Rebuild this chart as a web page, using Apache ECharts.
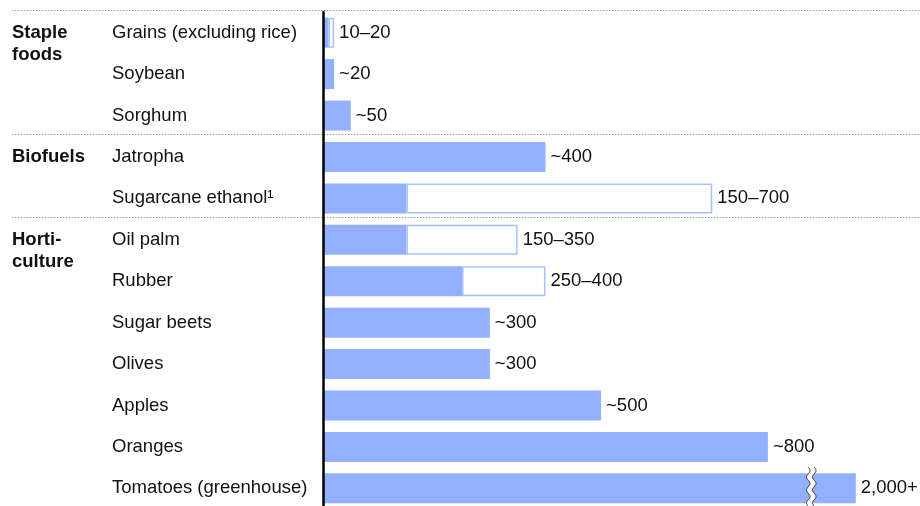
<!DOCTYPE html>
<html>
<head>
<meta charset="utf-8">
<script src="https://cdn.jsdelivr.net/npm/echarts@6/dist/echarts.min.js"></script>
<style>html,body{margin:0;padding:0;background:#fff}#chart{width:920px;height:506px}</style>
</head>
<body>
<div id="chart"></div>
<script>
const categories = ['Grains (excluding rice)', 'Soybean', 'Sorghum', 'Jatropha', 'Sugarcane ethanol¹', 'Oil palm', 'Rubber', 'Sugar beets', 'Olives', 'Apples', 'Oranges', 'Tomatoes (greenhouse)'];
const lowValues = [10, 20, 50, 400, 150, 150, 250, 300, 300, 500, 800, 2000];
const highValues = [20, null, null, null, 700, 350, 400, null, null, null, null, null];
const valueLabels = ['10–20', '~20', '~50', '~400', '150–700', '150–350', '250–400', '~300', '~300', '~500', '~800', '2,000+'];
const groupNames = ['Staple\nfoods', 'Biofuels', 'Horti-\nculture'];
const groupStarts = [0, 3, 5];
const axisBreak = { start: 878, end: 1920 };

const FONT = '"Liberation Sans", Arial, sans-serif';
const FS = 18.5;
const BLUE = '#93b0ff';
const chart = echarts.init(document.getElementById('chart'), null, { renderer: 'canvas' });

const lowData = lowValues.map((v, i) => ({ value: v, label: { show: highValues[i] == null } }));
const rangeData = highValues.map((h, i) => h == null ? '-' : h - lowValues[i]);

const labelStyle = {
  position: 'right', distance: 5, fontSize: FS, color: '#111', fontFamily: FONT,
  formatter: p => valueLabels[p.dataIndex]
};

chart.setOption({
  animation: false,
  grid: { left: 323, top: 12, width: 555, height: 497, outerBoundsMode: 'none', containLabel: false },
  xAxis: {
    type: 'value', min: 0, max: 2040, show: false,
    splitLine: { show: false },
    breaks: [{ start: axisBreak.start, end: axisBreak.end, gap: 0 }],
    breakArea: { show: false }
  },
  yAxis: {
    type: 'category', data: categories, inverse: true, z: 20,
    axisLine: { show: true, lineStyle: { color: '#000', width: 2.5 } },
    axisTick: { show: false },
    splitLine: { show: false },
    axisLabel: { align: 'left', margin: 211, fontSize: FS, color: '#111', fontFamily: FONT }
  },
  series: [
    {
      type: 'bar', stack: 'a', barWidth: 30, data: lowData,
      itemStyle: { color: BLUE },
      label: labelStyle
    },
    {
      type: 'bar', stack: 'a', barWidth: 30, data: rangeData,
      itemStyle: { color: '#fff', borderColor: '#a9c0ff', borderWidth: 1.5 },
      label: Object.assign({ show: true }, labelStyle)
    },
    {
      type: 'custom', z: 10,
      data: [[axisBreak.start, categories.length - 1]],
      encode: { x: 0, y: 1 },
      renderItem: function (params, api) {
        const p = api.coord([api.value(0), api.value(1)]);
        const top = p[1] - 21, bottom = p[1] + 22;
        const left = [], right = [];
        for (let y = top; y <= bottom; y += 1) {
          const dx = 1.8 * Math.sin((y - top) / 13 * 2 * Math.PI);
          left.push([p[0] - 3 + dx, y]);
          right.push([p[0] + 3 + dx, y]);
        }
        return {
          type: 'group',
          children: [
            { type: 'polygon', shape: { points: left.concat(right.slice().reverse()) }, style: { fill: '#fff' } },
            { type: 'polyline', shape: { points: left }, style: { stroke: '#333', lineWidth: 1, fill: null } },
            { type: 'polyline', shape: { points: right }, style: { stroke: '#333', lineWidth: 1, fill: null } }
          ]
        };
      }
    }
  ]
});

// group labels and dotted separators positioned from the category axis
const band = 497 / categories.length;
const graphics = [];
groupStarts.forEach((idx, g) => {
  const cy = chart.convertToPixel({ yAxisIndex: 0 }, idx);
  const by = Math.round(cy - band / 2) - 1.5;
  graphics.push({
    type: 'line', shape: { x1: 12, y1: by, x2: 920, y2: by },
    style: { stroke: '#a0a0a0', lineWidth: 1, lineDash: [1.5, 1.5] }, z: 0
  });
  graphics.push({
    type: 'text', x: 12, y: cy - 11,
    style: { text: groupNames[g], font: 'bold ' + FS + 'px ' + FONT, fill: '#111', lineHeight: 22, verticalAlign: 'top' }
  });
});
chart.setOption({ graphic: graphics });
</script>
</body>
</html>
